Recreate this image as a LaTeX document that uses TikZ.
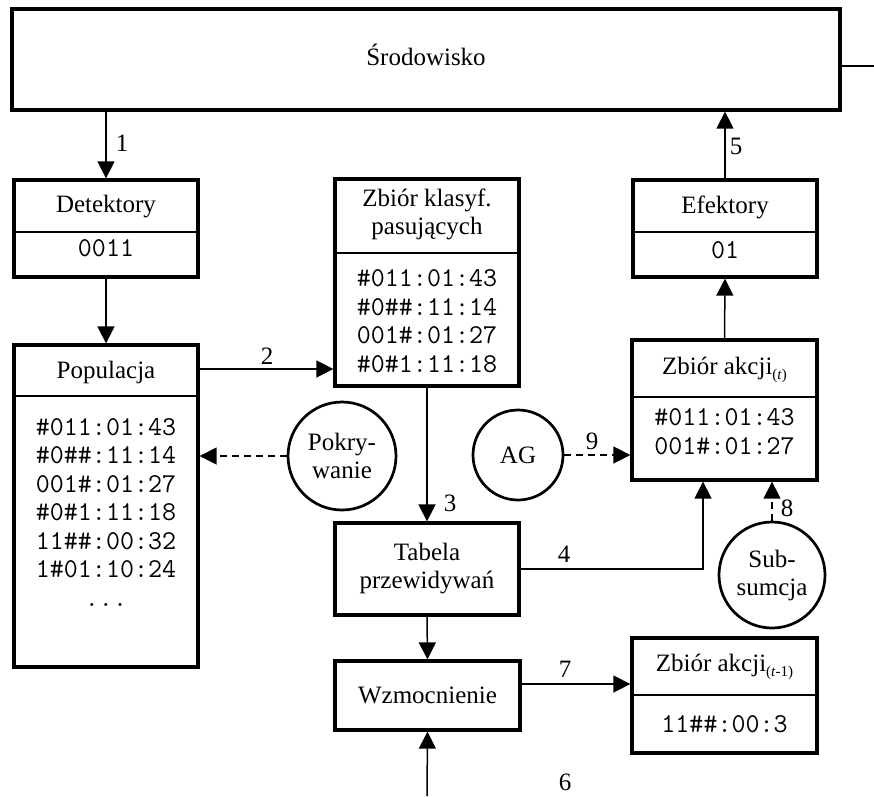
\documentclass[tikz,border=0pt]{standalone}
\usepackage{fontspec}
\setmainfont{Liberation Serif}
\usetikzlibrary{arrows.meta}
\newcommand{\rmfnt}{\fontsize{25}{28}\selectfont}
\newcommand{\ttfnt}{\ttfamily\fontsize{27.2}{28.5}\selectfont}
\newcommand{\stepidx}[1]{\raisebox{-4.5pt}{\fontsize{15}{15}\selectfont(#1)}}
\begin{document}
\begin{tikzpicture}[x=1pt,y=-1pt,
  box/.style={draw, rectangle, line width=3.3pt, inner sep=0pt},
  circ/.style={draw, circle, line width=2.7pt, inner sep=0pt, align=center, font=\rmfnt},
  ttl/.style={inner sep=0pt, align=center, font=\rmfnt},
  code/.style={inner sep=0pt, align=center, font=\ttfnt},
  num/.style={inner sep=0pt, font=\rmfnt},
  divider/.style={line width=1.2pt},
  conn/.style={line width=1.5pt, -{Triangle[length=17pt,width=17pt]}},
  dconn/.style={conn, dash pattern=on 7pt off 5pt}
]
\useasboundingbox (0,0) rectangle (874,796);

% --- boxes ---
\node[box, minimum width=828pt, minimum height=101pt] (env) at (426,59.5) {};
\node[ttl] (env-t) at (426,55) {Środowisko};

\node[box, minimum width=184pt, minimum height=97pt] (det) at (106,228.5) {};
\node[ttl] (det-t) at (106,207) {Detektory};
\node[code] (det-c) at (106,248) {0011};
\coordinate (det-d) at (0,232);
\draw[divider] (det.west |- det-d) -- (det.east |- det-d);

\node[box, minimum width=184pt, minimum height=322pt] (pop) at (106,506) {};
\node[ttl] (pop-t) at (106,372) {Populacja};
\node[code] (pop-c) at (106,512) {\#011:01:43\\\#0\#\#:11:14\\001\#:01:27\\\#0\#1:11:18\\11\#\#:00:32\\1\#01:10:24\\...};
\coordinate (pop-d) at (0,396);
\draw[divider] (pop.west |- pop-d) -- (pop.east |- pop-d);

\node[box, minimum width=184pt, minimum height=207pt] (kla) at (427,282.5) {};
\node[ttl] (kla-t) at (427,214) {Zbiór klasyf.\\pasujących};
\node[code] (kla-c) at (427,321) {\#011:01:43\\\#0\#\#:11:14\\001\#:01:27\\\#0\#1:11:18};
\coordinate (kla-d) at (0,253);
\draw[divider] (kla.west |- kla-d) -- (kla.east |- kla-d);

\node[box, minimum width=184pt, minimum height=92pt] (tab) at (427,569) {};
\node[ttl] (tab-t) at (427,569) {Tabela\\przewidywań};

\node[box, minimum width=185pt, minimum height=69pt] (wzm) at (427.5,695.5) {};
\node[ttl] (wzm-t) at (427.5,695) {Wzmocnienie};

\node[box, minimum width=184pt, minimum height=97pt] (eff) at (725,228.5) {};
\node[ttl] (eff-t) at (725,207) {Efektory};
\node[code] (eff-c) at (725,250) {01};
\coordinate (eff-d) at (0,232);
\draw[divider] (eff.west |- eff-d) -- (eff.east |- eff-d);

\node[box, minimum width=185pt, minimum height=140pt] (akt) at (724.5,410) {};
\node[ttl] (akt-t) at (724.5,370) {Zbiór akcji\stepidx{\textit{t}}};
\node[code] (akt-c) at (724.5,431.5) {\#011:01:43\\001\#:01:27};
\coordinate (akt-d) at (0,397);
\draw[divider] (akt.west |- akt-d) -- (akt.east |- akt-d);

\node[box, minimum width=185pt, minimum height=115pt] (akp) at (724.5,695.5) {};
\node[ttl] (akp-t) at (724.5,667) {Zbiór akcji\stepidx{\textit{t}-1}};
\node[code] (akp-c) at (724.5,724) {11\#\#:00:3};
\coordinate (akp-d) at (0,695);
\draw[divider] (akp.west |- akp-d) -- (akp.east |- akp-d);

% --- circles ---
\node[circ, minimum size=108pt] (pok) at (342,456) {Pokry-\\wanie};
\node[circ, minimum size=90pt] (ag) at (518,455) {AG};
\node[circ, minimum size=106pt] (sub) at (772,575) {Sub-\\sumcja};

% --- helper coordinates ---
\coordinate (envout) at (874,66);
\coordinate (y2) at (0,369);
\coordinate (c4) at (703,569);
\coordinate (in6) at (427,796);
\coordinate (y7) at (0,684);

% --- connectors ---
\draw[line width=1.5pt] (env.east |- envout) -- (envout);
\draw[conn] (det.north |- env.south) -- (det.north);
\draw[conn] (det.south) -- (pop.north);
\draw[conn] (pop.east |- y2) -- (kla.west |- y2);
\draw[conn] (tab.north |- kla.south) -- (tab.north);
\draw[conn] (tab.south) -- (wzm.north);
\draw[conn] (in6) -- (wzm.south);
\draw[conn] (wzm.east |- y7) -- (akp.west |- y7);
\draw[conn] (tab.east |- c4) -| (c4 |- akt.south);
\draw[dconn] (sub.north) -- (sub.north |- akt.south);
\draw[dconn] (ag.east) -- (akt.west |- ag.east);
\draw[dconn] (pok.west) -- (pop.east |- pok.west);
\draw[conn] (akt.north) -- (eff.south);
\draw[conn] (eff.north) -- (eff.north |- env.south);

% --- step numbers ---
\node[num] (l1) at (122,143) {1};
\node[num] (l2) at (267,356) {2};
\node[num] (l3) at (450,503) {3};
\node[num] (l4) at (564,554) {4};
\node[num] (l5) at (736,146) {5};
\node[num] (l6) at (565,782) {6};
\node[num] (l7) at (565,669) {7};
\node[num] (l8) at (787,508) {8};
\node[num] (l9) at (592,441) {9};
\end{tikzpicture}
\end{document}
